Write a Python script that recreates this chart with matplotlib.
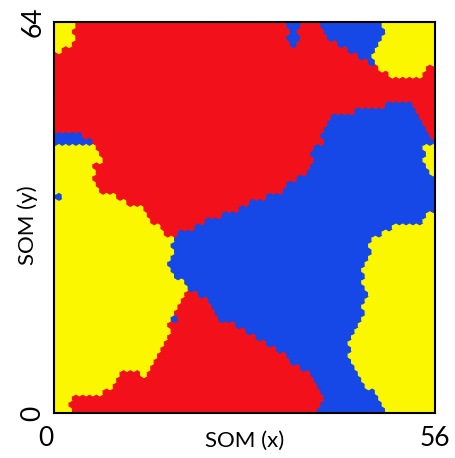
import matplotlib
matplotlib.use('Agg')
import matplotlib.pyplot as plt
import numpy as np
from matplotlib.path import Path
from matplotlib.collections import PolyCollection

# Tamaño del mapa SOM
n_cols, n_rows = 56, 64

# Colores de los clusters: 0 rojo, 1 amarillo, 2 azul
colores = ['#F2111A', '#FAF700', '#1548E6']

amarillo_sup_izq = [(0, 64), (2.95, 64), (3.1, 62.4), (2.4, 60.4), (1.2, 59.4), (0.3, 58.8), (0, 58.8)]
amarillo_izq = [(0, 43.9), (5.3, 43.9), (6.8, 42.7), (7.1, 41.4), (6.0, 40.6), (5.7, 39.0), (6.5, 36.5),
                (7.8, 36.0), (10.2, 34.9), (12.7, 33.7), (14.6, 31.6), (16.1, 30.0), (17.4, 28.8),
                (17.1, 23.4), (19.6, 21.3), (19.0, 19.6), (18.3, 18.5), (17.5, 15.2), (16.1, 11.5),
                (14.1, 7.5), (13.1, 6.2), (12.4, 7.0), (9.7, 7.0), (8.5, 4.3), (6.8, 3.3), (2.8, 2.9),
                (2.65, 0), (0, 0)]
amarillo_sup_der = [(48.5, 64), (56, 64), (56, 56.6), (54.3, 56.5), (53.5, 54.8), (49.9, 54.8),
                    (48.0, 56.1), (46.8, 57.3), (47.6, 59.7), (49.0, 62.2)]
amarillo_der = [(54.3, 44.2), (56, 44.2), (56, 39.3), (55.1, 39.8), (54.3, 41.4)]
amarillo_inf_der = [(49.0, 0), (48.0, 2.1), (46.1, 4.3), (44.6, 5.9), (43.3, 8.7), (43.3, 10.8),
                    (44.0, 12.4), (45.1, 15.2), (45.8, 18.5), (45.8, 19.6), (45.4, 22.3), (46.1, 25.5),
                    (47.0, 28.3), (48.5, 29.6), (50.5, 30.8), (53.9, 31.3), (55.4, 32.7), (56, 33.7), (56, 0)]

azul_izq = [(0, 45.8), (4.1, 45.8), (4.4, 44.8), (5.6, 44.8), (5.6, 43.9), (0, 43.9)]
azul_sup = [(38.7, 64), (48.5, 64), (49.0, 62.2), (47.6, 59.7), (46.8, 57.3), (45.5, 57.8),
            (43.9, 59.4), (41.7, 60.6), (39.2, 62.7)]
azul_mancha = [(34.2, 64), (35.6, 64), (36.5, 61.9), (35.9, 59.7), (35.1, 60.2), (34.3, 62.4)]
azul_centro = [(17.4, 28.8), (19.0, 30.0), (21.5, 30.8), (23.4, 32.1), (25.9, 32.9), (28.9, 34.4),
               (30.8, 35.2), (33.3, 36.0), (34.8, 37.8), (36.5, 39.0), (37.7, 40.9), (38.0, 43.0),
               (39.5, 44.7), (39.6, 46.3), (40.6, 48.8), (48.0, 50.1), (48.5, 50.7), (52.9, 50.7),
               (54.3, 46.8), (54.9, 45.2), (56, 45.2), (56, 33.7), (55.4, 32.7), (53.9, 31.3),
               (50.5, 30.8), (48.5, 29.6), (47.0, 28.3), (46.1, 25.5), (45.4, 22.3), (45.8, 19.6),
               (45.8, 18.5), (45.1, 15.2), (44.0, 12.4), (43.3, 10.8), (43.3, 8.7), (44.6, 5.9),
               (46.1, 4.3), (48.0, 2.1), (49.0, 0), (39.2, 0), (39.5, 3.8), (38.0, 5.9), (36.2, 7.5),
               (32.3, 10.8), (29.3, 13.1), (26.4, 14.7), (24.0, 15.7), (22.5, 18.5), (20.5, 19.8),
               (19.3, 20.1), (19.0, 19.6), (19.6, 21.3), (17.1, 23.4)]
# Neuronas azules aisladas (columna, fila)
azul_sueltas = [(0, 35), (17, 15)]

# Orden de pintado: rojo por defecto, luego amarillo y azul
capas = [
    (amarillo_sup_izq, 1), (amarillo_izq, 1), (amarillo_sup_der, 1), (amarillo_inf_der, 1),
    (azul_izq, 2), (azul_sup, 2), (azul_mancha, 2), (azul_centro, 2),
    (amarillo_der, 1),
]

# Centros de la rejilla hexagonal
col, fila = np.meshgrid(np.arange(n_cols), np.arange(n_rows))
cx = col + 0.25 + 0.5 * (fila % 2)
cy = fila + 0.5
puntos = np.column_stack([cx.ravel(), cy.ravel()])

etiquetas = np.zeros(n_cols * n_rows, dtype=int)
for poligono, k in capas:
    dentro = Path(poligono).contains_points(puntos)
    etiquetas[dentro] = k
etiquetas = etiquetas.reshape(n_rows, n_cols)
for c, f in azul_sueltas:
    etiquetas[f, c] = 2

# Hexágonos (punta arriba)
hexagono = np.array([(0, 2/3), (0.5, 1/3), (0.5, -1/3), (0, -2/3), (-0.5, -1/3), (-0.5, 1/3)])
verts = [hexagono + p for p in puntos]
col_celdas = [colores[k] for k in etiquetas.ravel()]

fig = plt.figure(figsize=(4.56, 4.58), dpi=100)
ax = fig.add_axes([0.118, 0.098, 0.836, 0.854])
pc = PolyCollection(verts, facecolors=col_celdas, edgecolors=col_celdas, linewidths=0.9)
ax.add_collection(pc)
ax.set_xlim(0, n_cols)
ax.set_ylim(0, n_rows)

for s in ax.spines.values():
    s.set_linewidth(1.5)
    s.set_color('black')

ax.set_xticks([0, n_cols])
ax.set_xticklabels(['0', '56'], fontsize=19, family='Lato')
ax.get_xticklabels()[0].set_ha('right')
ax.set_yticks([0, n_rows])
ax.set_yticklabels(['0', '64'], fontsize=19, family='Lato', rotation=90, va='center')
ax.tick_params(length=0)
ax.tick_params(axis='x', pad=9)
ax.tick_params(axis='y', pad=6)
ax.set_xlabel('SOM (x)', fontsize=16, family='Lato')
ax.xaxis.set_label_coords(0.5, -0.045)
ax.set_ylabel('SOM (y)', fontsize=16, family='Lato', va='center')
ax.yaxis.set_label_coords(-0.068, 0.48)

fig.savefig('out.png', dpi=100)
